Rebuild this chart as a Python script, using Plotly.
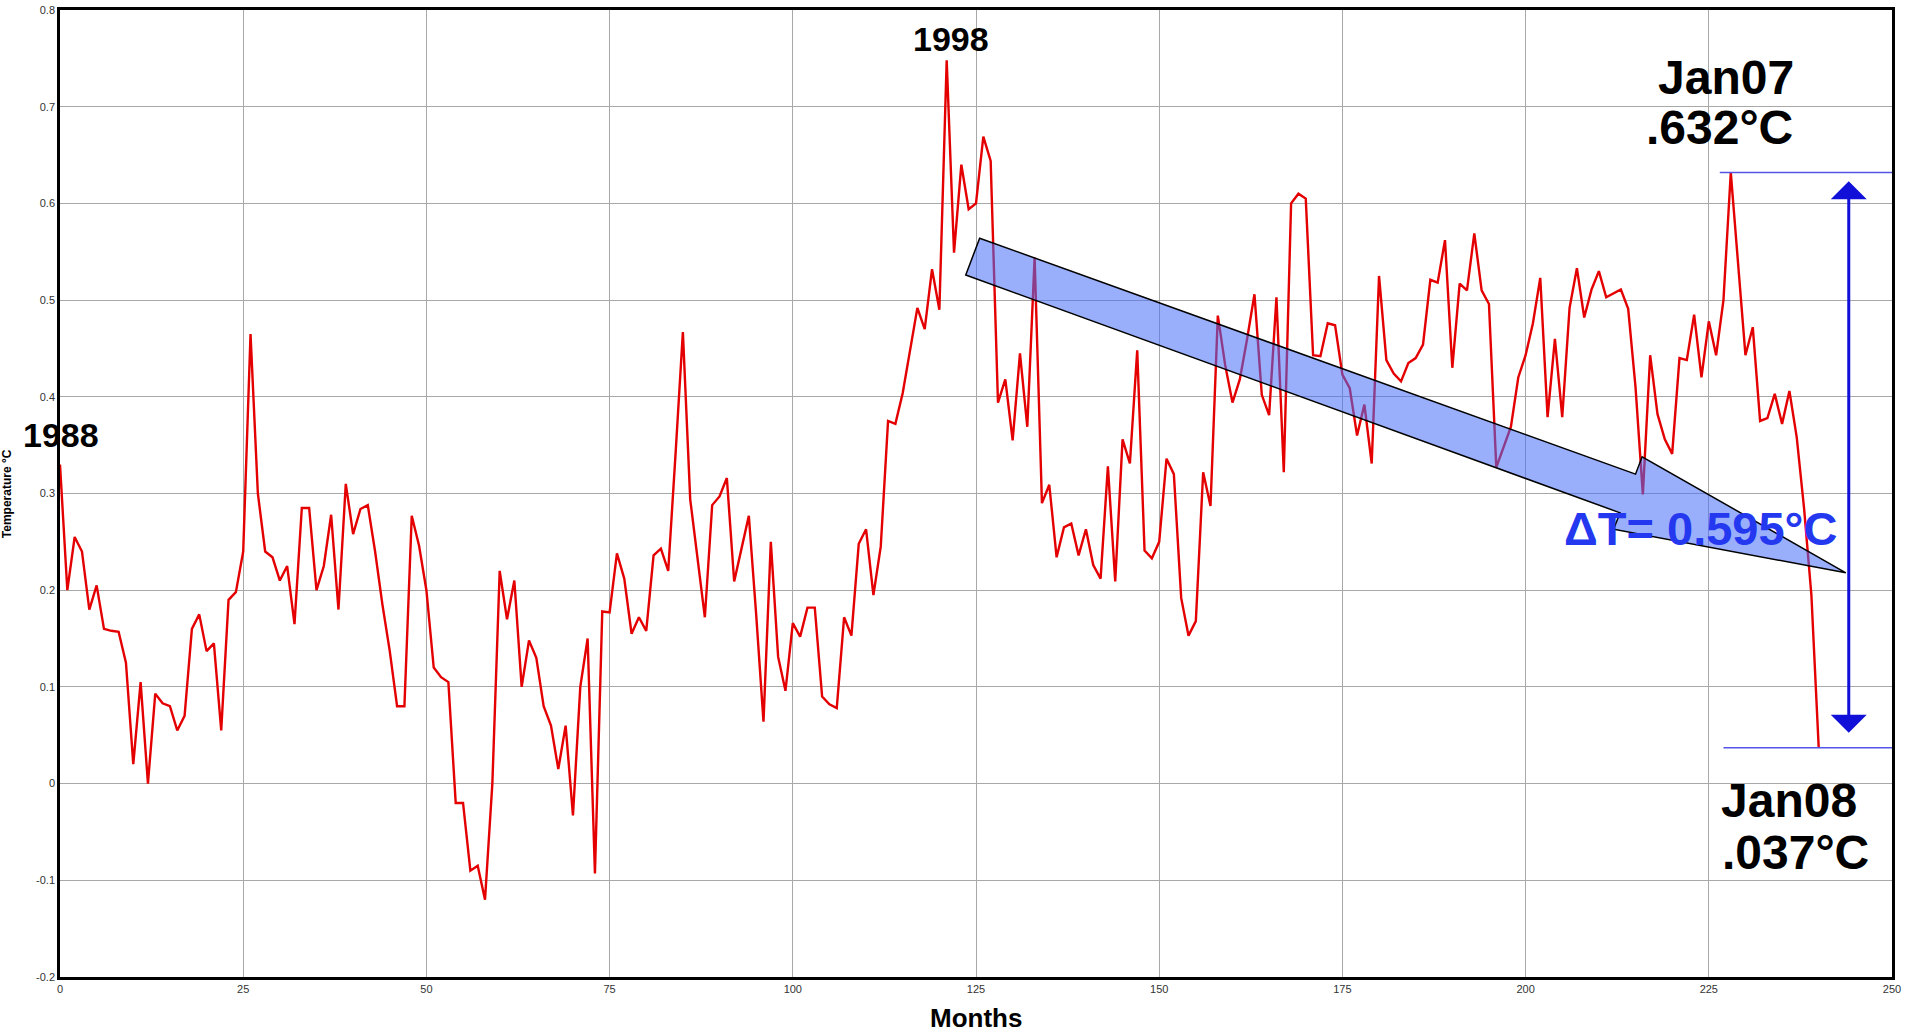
import plotly.graph_objects as go

# ---------------- data ----------------
temps = [
    0.33, 0.20, 0.255, 0.24, 0.18, 0.205, 0.16, 0.158, 0.157, 0.125,
    0.02, 0.105, 0.0, 0.093, 0.083, 0.08, 0.055, 0.07, 0.16, 0.175,
    0.137, 0.145, 0.055, 0.19, 0.198, 0.24, 0.465, 0.30, 0.24, 0.234,
    0.21, 0.225, 0.165, 0.285, 0.285, 0.20, 0.225, 0.278, 0.18, 0.31,
    0.258, 0.284, 0.288, 0.24, 0.185, 0.137, 0.08, 0.08, 0.277, 0.246,
    0.20, 0.12, 0.11, 0.105, -0.02, -0.02, -0.09, -0.085, -0.12, 0.0,
    0.22, 0.17, 0.21, 0.10, 0.148, 0.13, 0.08, 0.06, 0.015, 0.06,
    -0.033, 0.10, 0.15, -0.093, 0.178, 0.177, 0.238, 0.212, 0.155, 0.172,
    0.158, 0.236, 0.243, 0.22, 0.341, 0.467, 0.294, 0.233, 0.172, 0.288,
    0.297, 0.316, 0.209, 0.243, 0.277, 0.175, 0.064, 0.25, 0.131, 0.096,
    0.166, 0.152, 0.182, 0.182, 0.09, 0.082, 0.078, 0.172, 0.153, 0.248,
    0.263, 0.195, 0.245, 0.375, 0.372, 0.404, 0.447, 0.492, 0.47, 0.532,
    0.49, 0.748, 0.549, 0.64, 0.594, 0.60, 0.669, 0.644, 0.394, 0.418,
    0.355, 0.445, 0.369, 0.544, 0.29, 0.309, 0.234, 0.265, 0.269, 0.236,
    0.263, 0.226, 0.212, 0.328, 0.209, 0.356, 0.331, 0.448, 0.241, 0.233,
    0.25, 0.336, 0.32, 0.192, 0.153, 0.168, 0.322, 0.287, 0.484, 0.433,
    0.394, 0.418, 0.46, 0.506, 0.402, 0.381, 0.503, 0.322, 0.60, 0.61,
    0.605, 0.443, 0.442, 0.476, 0.474, 0.423, 0.409, 0.36, 0.392, 0.331,
    0.525, 0.438, 0.424, 0.416, 0.435, 0.44, 0.454, 0.521, 0.518, 0.562,
    0.43, 0.517, 0.51, 0.569, 0.51, 0.496, 0.327, 0.348, 0.369, 0.42,
    0.443, 0.476, 0.523, 0.379, 0.46, 0.379, 0.492, 0.533, 0.482, 0.511,
    0.53, 0.503, 0.507, 0.511, 0.491, 0.41, 0.299, 0.443, 0.382, 0.356,
    0.341, 0.44, 0.438, 0.485, 0.42, 0.478, 0.443, 0.50, 0.632, 0.538,
    0.443, 0.472, 0.375, 0.378, 0.403, 0.372, 0.406, 0.358, 0.285, 0.195,
    0.037,
]
months = list(range(len(temps)))

x_ticks = [0, 25, 50, 75, 100, 125, 150, 175, 200, 225, 250]
y_ticks = [0.8, 0.7, 0.6, 0.5, 0.4, 0.3, 0.2, 0.1, 0.0, -0.1, -0.2]
y_tick_labels = ["0.8", "0.7", "0.6", "0.5", "0.4", "0.3", "0.2", "0.1", "0", "-0.1", "-0.2"]

# annotation anchors (month, temperature)
jan07_month, jan07_temp = 228, 0.632
jan08_month, jan08_temp = 240, 0.037
# big trend arrow outline (month, temperature)
trend_arrow_x = [125.5, 215.0, 215.9, 243.7, 212.0, 212.9, 123.6]
trend_arrow_y = [0.564, 0.320, 0.338, 0.218, 0.263, 0.280, 0.526]

# ---------------- figure ----------------
fig = go.Figure()
fig.add_trace(go.Scatter(
    x=months, y=temps, mode="lines",
    line=dict(color="#e40000", width=2.4),
    hoverinfo="skip", showlegend=False,
))

path = "M " + " L ".join(f"{x},{y}" for x, y in zip(trend_arrow_x, trend_arrow_y)) + " Z"
fig.add_shape(type="path", path=path, xref="x", yref="y",
              fillcolor="rgba(70,110,250,0.55)",
              line=dict(color="black", width=1.5), layer="above")

# horizontal reference lines
fig.add_shape(type="line", xref="x", yref="y", x0=226.5, x1=250,
              y0=jan07_temp, y1=jan07_temp, line=dict(color="#5555e8", width=1.6))
fig.add_shape(type="line", xref="x", yref="y", x0=227, x1=250,
              y0=jan08_temp, y1=jan08_temp, line=dict(color="#5555e8", width=1.6))

# vertical double-headed arrow
fig.add_annotation(x=244.1, y=0.623, ax=244.1, ay=0.051, xref="x", yref="y",
                   axref="x", ayref="y", text="", showarrow=True,
                   arrowhead=1, startarrowhead=1, arrowside="end+start",
                   arrowsize=2, startarrowsize=2, arrowwidth=3, arrowcolor="#1010d8")

bold = "Liberation Sans, Arial, sans-serif"
def label(txt, x, y, size, color="black"):
    fig.add_annotation(x=x, y=y, xref="x", yref="y", text=f"<b>{txt}</b>",
                       showarrow=False, xanchor="center", yanchor="middle",
                       font=dict(family=bold, size=size, color=color))

label("1988", 0.2, 0.36, 34)
label("1998", 121.6, 0.77, 34)
label("Jan07", 227.4, 0.73, 48)
label(".632°C", 226.5, 0.678, 48)
label("Jan08", 236.0, -0.017, 48)
label(".037°C", 236.8, -0.071, 48)
label("ΔT= 0.595°C", 223.9, 0.264, 47, color="#2438f0")

narrow = "Liberation Sans Narrow, Liberation Sans, Arial"
fig.add_annotation(x=-0.034, y=0.3, xref="paper", yref="y", text="<b>Temperature °C</b>",
                   textangle=-90, showarrow=False,
                   font=dict(family=narrow, size=12, color="black"))
fig.add_annotation(x=125, y=-0.042, xref="x", yref="paper", text="<b>Months</b>",
                   showarrow=False, yanchor="middle",
                   font=dict(family=narrow, size=26, color="black"))

axis_font = dict(family=narrow, size=11, color="#333333")
fig.update_xaxes(range=[0, 250], tickvals=x_ticks, ticktext=[str(t) for t in x_ticks],
                 showgrid=True, gridcolor="#a8a8a8", gridwidth=1.2, zeroline=False,
                 showline=True, linecolor="black", linewidth=3, mirror=True,
                 ticks="", tickfont=axis_font, automargin=False)
fig.update_yaxes(range=[-0.2, 0.8], tickvals=y_ticks, ticktext=y_tick_labels,
                 showgrid=True, gridcolor="#a8a8a8", gridwidth=1.2, zeroline=False,
                 showline=True, linecolor="black", linewidth=2.5, mirror=True,
                 ticks="", tickfont=axis_font, automargin=False)

fig.update_layout(
    width=1905, height=1032,
    margin=dict(l=60, r=13, t=10, b=55),
    plot_bgcolor="white", paper_bgcolor="white",
    showlegend=False,
)

fig.write_html("out.html", config={"displayModeBar": False},
               post_script="document.body.style.margin='0';document.body.style.overflow='hidden';")
